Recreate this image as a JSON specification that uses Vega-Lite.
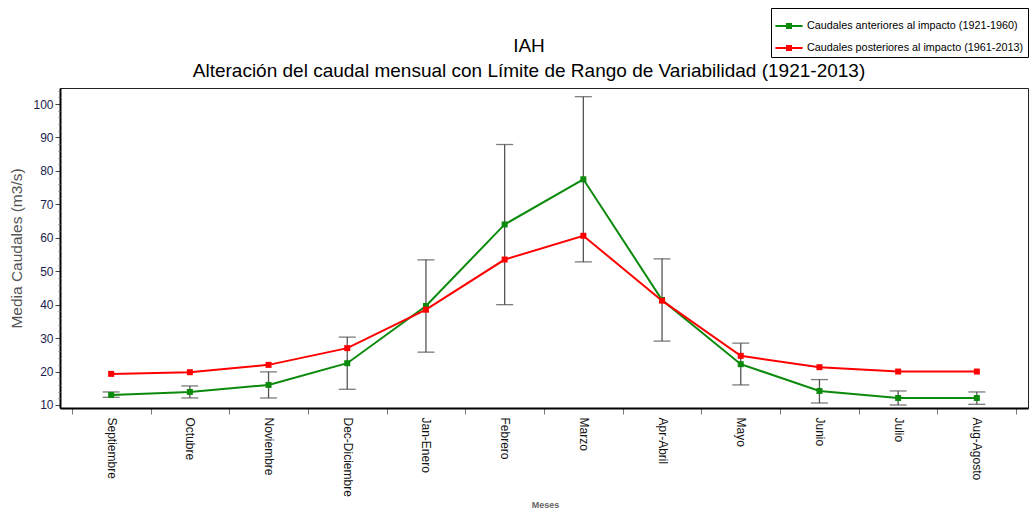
{
  "$schema": "https://vega.github.io/schema/vega-lite/v6.json",
  "width": 968,
  "height": 320,
  "autosize": {"type": "none"},
  "padding": {"left": 60, "top": 88, "right": 1, "bottom": 100},
  "background": "white",
  "config": {
    "font": "Liberation Sans",
    "view": {"stroke": "#222", "strokeWidth": 1}
  },
  "title": {
    "text": ["IAH", "Alteración del caudal mensual con Límite de Rango de Variabilidad (1921-2013)"],
    "fontSize": 19,
    "fontWeight": "normal",
    "color": "#000",
    "anchor": "middle",
    "frame": "group",
    "dx": -15,
    "dy": 80,
    "offset": 7,
    "lineHeight": 25,
    "font": "Liberation Sans"
  },
  "resolve": {"axis": {"y": "independent"}},
  "datasets": {
    "series": [
      {"mes": "Septiembre", "serie": "Caudales anteriores al impacto (1921-1960)", "caudal": 13.0},
      {"mes": "Octubre", "serie": "Caudales anteriores al impacto (1921-1960)", "caudal": 13.9},
      {"mes": "Noviembre", "serie": "Caudales anteriores al impacto (1921-1960)", "caudal": 16.0},
      {"mes": "Dec-Diciembre", "serie": "Caudales anteriores al impacto (1921-1960)", "caudal": 22.5},
      {"mes": "Jan-Enero", "serie": "Caudales anteriores al impacto (1921-1960)", "caudal": 39.6},
      {"mes": "Febrero", "serie": "Caudales anteriores al impacto (1921-1960)", "caudal": 64.0},
      {"mes": "Marzo", "serie": "Caudales anteriores al impacto (1921-1960)", "caudal": 77.5},
      {"mes": "Apr-Abril", "serie": "Caudales anteriores al impacto (1921-1960)", "caudal": 41.4},
      {"mes": "Mayo", "serie": "Caudales anteriores al impacto (1921-1960)", "caudal": 22.2},
      {"mes": "Junio", "serie": "Caudales anteriores al impacto (1921-1960)", "caudal": 14.2},
      {"mes": "Julio", "serie": "Caudales anteriores al impacto (1921-1960)", "caudal": 12.1},
      {"mes": "Aug-Agosto", "serie": "Caudales anteriores al impacto (1921-1960)", "caudal": 12.1},
      {"mes": "Septiembre", "serie": "Caudales posteriores al impacto (1961-2013)", "caudal": 19.3},
      {"mes": "Octubre", "serie": "Caudales posteriores al impacto (1961-2013)", "caudal": 19.8},
      {"mes": "Noviembre", "serie": "Caudales posteriores al impacto (1961-2013)", "caudal": 22.0},
      {"mes": "Dec-Diciembre", "serie": "Caudales posteriores al impacto (1961-2013)", "caudal": 27.0},
      {"mes": "Jan-Enero", "serie": "Caudales posteriores al impacto (1961-2013)", "caudal": 38.5},
      {"mes": "Febrero", "serie": "Caudales posteriores al impacto (1961-2013)", "caudal": 53.5},
      {"mes": "Marzo", "serie": "Caudales posteriores al impacto (1961-2013)", "caudal": 60.6},
      {"mes": "Apr-Abril", "serie": "Caudales posteriores al impacto (1961-2013)", "caudal": 41.2},
      {"mes": "Mayo", "serie": "Caudales posteriores al impacto (1961-2013)", "caudal": 24.7},
      {"mes": "Junio", "serie": "Caudales posteriores al impacto (1961-2013)", "caudal": 21.3},
      {"mes": "Julio", "serie": "Caudales posteriores al impacto (1961-2013)", "caudal": 20.0},
      {"mes": "Aug-Agosto", "serie": "Caudales posteriores al impacto (1961-2013)", "caudal": 20.0}
    ],
    "rango": [
      {"mes": "Septiembre", "min": 12.3, "max": 13.9},
      {"mes": "Octubre", "min": 12.1, "max": 15.7},
      {"mes": "Noviembre", "min": 12.1, "max": 19.9},
      {"mes": "Dec-Diciembre", "min": 14.7, "max": 30.3},
      {"mes": "Jan-Enero", "min": 25.8, "max": 53.4},
      {"mes": "Febrero", "min": 40.0, "max": 87.9},
      {"mes": "Marzo", "min": 52.8, "max": 102.2},
      {"mes": "Apr-Abril", "min": 29.1, "max": 53.7},
      {"mes": "Mayo", "min": 16.0, "max": 28.5},
      {"mes": "Junio", "min": 10.6, "max": 17.6},
      {"mes": "Julio", "min": 10.0, "max": 14.2},
      {"mes": "Aug-Agosto", "min": 10.2, "max": 13.9}
    ]
  },
  "encoding": {
    "x": {
      "field": "mes",
      "type": "nominal",
      "sort": ["Septiembre", "Octubre", "Noviembre", "Dec-Diciembre", "Jan-Enero", "Febrero", "Marzo", "Apr-Abril", "Mayo", "Junio", "Julio", "Aug-Agosto"],
      "scale": {"type": "band", "paddingInner": 0, "paddingOuter": 0.15},
      "axis": {
        "title": "Meses",
        "titleFontSize": 9,
        "titleFontWeight": "bold",
        "titleColor": "#666",
        "titleBaseline": "top",
        "titleY": 92,
        "titleX": 485,
        "tickBand": "extent",
        "tickSize": 6,
        "tickColor": "#777",
        "domainColor": "#000",
        "domainWidth": 2,
        "labelAngle": 90,
        "labelAlign": "left",
        "labelBaseline": "middle",
        "labelPadding": 3,
        "labelFontSize": 12,
        "labelColor": "#111"
      }
    }
  },
  "layer": [
    {
      "data": {"name": "rango"},
      "mark": {"type": "rule", "color": "#555", "strokeWidth": 1.3},
      "encoding": {
        "y": {
          "field": "min",
          "type": "quantitative",
          "scale": {"domain": [9.1, 104.8], "nice": false, "zero": false},
          "axis": {
            "orient": "left",
            "title": "Media Caudales (m3/s)",
            "titleFontSize": 15.5,
            "titleFontWeight": "normal",
            "titleColor": "#555",
            "titlePadding": 8,
            "values": [10, 20, 30, 40, 50, 60, 70, 80, 90, 100],
            "labelOverlap": false,
            "grid": false,
            "tickSize": 5,
            "tickColor": "#444",
            "domainColor": "#000",
            "domainWidth": 2,
            "labelFontSize": 12,
            "labelColor": "#1c1c4c",
            "labelPadding": 2
          }
        },
        "y2": {"field": "max"}
      }
    },
    {
      "data": {"name": "rango"},
      "mark": {"type": "rule", "opacity": 0},
      "encoding": {
        "y": {
          "field": "max",
          "type": "quantitative",
          "axis": {
            "orient": "left",
            "title": null,
            "values": [12, 14, 16, 18, 22, 24, 26, 28, 32, 34, 36, 38, 42, 44, 46, 48, 52, 54, 56, 58, 62, 64, 66, 68, 72, 74, 76, 78, 82, 84, 86, 88, 92, 94, 96, 98, 102, 104],
            "labels": false,
            "domain": false,
            "grid": false,
            "tickSize": 2,
            "tickWidth": 1,
            "tickColor": "#777"
          }
        }
      }
    },
    {
      "data": {"name": "rango"},
      "mark": {"type": "tick", "color": "#444", "thickness": 1.3, "size": 17},
      "encoding": {"y": {"field": "min", "type": "quantitative", "axis": null}}
    },
    {
      "data": {"name": "rango"},
      "mark": {"type": "tick", "color": "#444", "thickness": 1.3, "size": 17},
      "encoding": {"y": {"field": "max", "type": "quantitative", "axis": null}}
    },
    {
      "data": {"name": "series"},
      "mark": {"type": "line", "strokeWidth": 2},
      "encoding": {
        "y": {"field": "caudal", "type": "quantitative", "axis": null},
        "color": {
          "field": "serie",
          "type": "nominal",
          "scale": {
            "domain": ["Caudales anteriores al impacto (1921-1960)", "Caudales posteriores al impacto (1961-2013)"],
            "range": ["#0b8a0b", "#ff0000"]
          },
          "legend": {
            "title": null,
            "orient": "none",
            "legendX": 711,
            "legendY": -80,
            "strokeColor": "#000",
            "fillColor": "#fff",
            "padding": 4,
            "rowPadding": 3,
            "labelFontSize": 10.8,
            "labelLimit": 400,
            "labelColor": "#000",
            "labelFont": "Liberation Sans",
            "symbolType": "M-1,-0.08H1V0.08H-1Z M-0.22,-0.22H0.22V0.22H-0.22Z",
            "symbolSize": 740,
            "symbolStrokeWidth": 0,
            "labelOffset": 4,
            "encode": {
              "symbols": {"update": {"fill": {"scale": "color", "field": "value"}, "strokeWidth": {"value": 0}}}
            }
          }
        }
      }
    },
    {
      "data": {"name": "series"},
      "mark": {"type": "point", "shape": "square", "filled": true, "size": 36, "opacity": 1},
      "encoding": {
        "y": {"field": "caudal", "type": "quantitative", "axis": null},
        "color": {"field": "serie", "type": "nominal"}
      }
    }
  ]
}
